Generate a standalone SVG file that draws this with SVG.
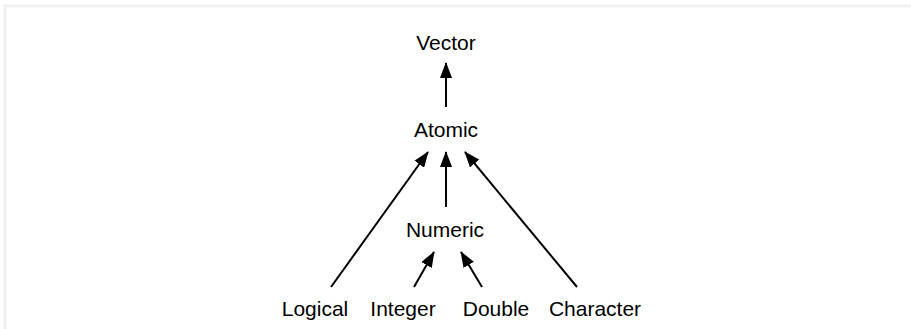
<svg xmlns="http://www.w3.org/2000/svg" width="911" height="329" viewBox="0 0 911 329">
<style>
text{font-family:"Liberation Sans",Arial,Helvetica,sans-serif;font-size:21px;fill:#000;text-anchor:middle}
.c line{stroke:#000;stroke-width:2;marker-end:url(#ah)}
</style>
<defs>
<marker id="ah" viewBox="0 0 16 12" refX="15" refY="6" markerWidth="16" markerHeight="12" markerUnits="userSpaceOnUse" orient="auto">
<path d="M0,0 L16,6 L0,12 z" fill="#000"/>
</marker>
</defs>
<rect width="911" height="329" fill="#fff"/>
<path d="M5,329 V6 H911" fill="none" stroke="#f0f0f0" stroke-width="3"/>
<g class="c">
<line x1="446" y1="107" x2="446" y2="63"/>
<line x1="331" y1="287" x2="428" y2="152"/>
<line x1="446" y1="207" x2="446" y2="152"/>
<line x1="577" y1="287" x2="465" y2="152"/>
<line x1="414" y1="287" x2="434" y2="252"/>
<line x1="482" y1="287" x2="461" y2="252"/>
</g>
<g id="vector"><text x="446" y="50">Vector</text></g>
<g id="atomic"><text x="446" y="137">Atomic</text></g>
<g id="numeric"><text x="445" y="237">Numeric</text></g>
<g id="logical"><text x="315" y="316">Logical</text></g>
<g id="integer"><text x="403" y="316">Integer</text></g>
<g id="double"><text x="496" y="316">Double</text></g>
<g id="character"><text x="595" y="316">Character</text></g>
</svg>
